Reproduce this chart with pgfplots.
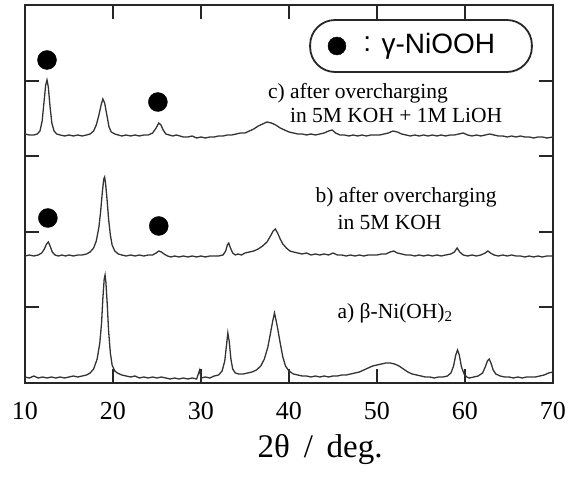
\documentclass[border=0pt]{standalone}
\usepackage{fontspec}
\setmainfont{Liberation Serif}
\newfontfamily\hv{Liberation Sans}
\usepackage{pgfplots}
\pgfplotsset{compat=1.18}

\pgfplotstableread{
x y
10 6
10.5 5
11 7
11.5 5
12 6
12.5 5
13 6
13.5 5
14 6
14.5 5
15 6
15.5 7
16 6
16.5 7
17 8
17.4 10
17.8 14
18.2 24
18.5 40
18.7 60
18.85 85
19.0 104
19.1 108
19.2 100
19.35 78
19.5 52
19.7 30
19.9 18
20.2 12
20.5 10
21 8
21.5 7
22 6
22.5 7
23 5
23.5 6
24 5
24.5 6
25 5
25.5 6
26 5
26.5 4
27 5
27.5 4
28 5
28.5 4
29 5
29.5 4
29.85 13
30.0 5
30.5 6
31 5
31.5 7
32 8
32.4 12
32.7 22
32.9 38
33.05 50
33.2 42
33.4 24
33.6 14
33.9 10
34.3 9
34.8 9
35.3 10
35.8 11
36.3 13
36.8 17
37.2 24
37.6 36
37.9 50
38.15 62
38.35 70
38.5 64
38.7 55
39.0 40
39.3 26
39.6 17
40.0 12
40.5 9
41 8
41.5 7
42 7
42.5 6
43 7
43.5 6
44 7
44.5 6
45 7
45.5 7
46 8
46.5 8
47 9
47.5 10
48 11
48.5 13
49 15
49.5 17
50 18
50.5 19
51 20
51.5 20
52 19
52.5 17
53 14
53.5 11
54 9
54.5 8
55 7
55.5 6
56 6
56.5 5
57 6
57.5 6
58 7
58.4 10
58.7 17
58.95 28
59.15 33
59.35 28
59.6 16
59.9 9
60.2 6
60.5 5
61 6
61.5 7
62 10
62.3 16
62.55 22
62.75 24
62.95 20
63.2 13
63.5 9
64 7
64.5 6
65 6
65.5 5
66 6
66.5 5
67 6
67.5 6
68 6
68.5 7
69 8
69.5 10
70 11
}\seriesA

\pgfplotstableread{
x y
10 127
10.5 128
11 127
11.5 128
11.9 130
12.2 134
12.45 139
12.65 141
12.85 137
13.1 131
13.4 128
13.8 127
14.2 128
14.6 127
15 128
15.5 127
16 128
16.5 128
17 129
17.4 131
17.8 135
18.1 142
18.4 156
18.6 172
18.8 192
18.95 204
19.05 206
19.15 200
19.3 186
19.5 164
19.7 148
19.9 138
20.2 132
20.6 129
21 128
21.5 127
22 128
22.5 127
23 128
23.5 127
24 128
24.5 128
24.9 130
25.2 132
25.5 131
25.8 129
26.2 127
26.6 126
27 127
27.5 126
28 127
28.5 126
29 127
29.5 126
30 127
30.5 126
31 127
31.5 127
32 127
32.5 128
32.8 132
33.0 138
33.15 140
33.35 135
33.6 130
33.9 128
34.2 129
34.6 128
35 130
35.5 131
36 132
36.5 134
37 137
37.5 141
37.9 147
38.2 152
38.45 154
38.7 150
39 144
39.3 139
39.7 135
40.1 132
40.5 131
41 130
41.5 129
42 130
42.5 128
43 129
43.5 128
44 129
44.5 128
45 130
45.5 128
46 128
46.5 127
47 128
47.5 127
48 128
48.5 127
49 128
49.5 128
50 128
50.5 129
51 129
51.5 131
51.9 132
52.3 130
52.8 129
53.3 128
53.8 128
54.3 127
54.8 128
55.3 127
55.8 128
56.3 127
56.8 128
57.3 127
57.8 128
58.4 129
58.8 131
59.1 135
59.4 131
59.8 128
60.3 127
60.8 128
61.3 127
61.8 128
62.3 130
62.6 132
62.9 130
63.3 128
63.8 127
64.3 128
64.8 127
65.3 128
65.8 127
66.3 127
66.8 126
67.3 127
67.8 126
68.3 127
68.8 126
69.3 127
70 127
}\seriesB

\pgfplotstableread{
x y
10 249
10.5 248
11 248
11.4 249
11.7 252
11.95 262
12.15 280
12.35 298
12.5 303
12.65 296
12.85 276
13.05 260
13.3 252
13.6 249
14 248
14.5 247
15 248
15.5 247
16 248
16.5 247
17 248
17.4 249
17.8 252
18.1 258
18.4 268
18.65 278
18.85 284
19.05 280
19.3 268
19.55 256
19.8 251
20.2 249
20.6 248
21 247
21.5 248
22 247
22.5 248
23 247
23.5 248
24 248
24.5 250
24.9 255
25.2 260
25.45 258
25.7 253
26 249
26.4 248
26.8 247
27.2 248
27.6 247
28 246
28.5 246
29 247
29.5 245
30 246
30.5 245
31 246
31.5 246
32 247
32.5 247
33 248
33.5 248
34 249
34.5 250
35 250
35.5 252
36 254
36.5 257
37 259
37.5 261
38 260
38.5 258
39 255
39.5 253
40 251
40.5 250
41 249
41.5 249
42 248
42.5 249
43 248
43.5 249
44 250
44.5 252
44.9 253
45.3 250
45.8 248
46.3 248
46.8 247
47.3 248
47.8 247
48.3 248
48.8 247
49.3 248
49.8 248
50.3 248
50.8 249
51.3 250
51.8 252
52.3 251
52.8 249
53.3 248
53.8 247
54.3 248
54.8 247
55.3 248
55.8 247
56.3 248
56.8 247
57.3 248
57.8 247
58.3 248
58.8 248
59.3 249
59.8 250
60.3 248
60.8 247
61.3 248
61.8 247
62.3 248
62.8 249
63.3 248
63.8 247
64.3 247
64.8 246
65.3 247
65.8 246
66.3 247
66.8 246
67.3 246
67.8 245
68.3 246
68.8 246
69.3 245
70 246
}\seriesC

% gamma-NiOOH markers
\pgfplotstableread{
x y
12.5 323
25.1 281
12.6 165
25.2 157
}\dots

\begin{document}
\begin{tikzpicture}
\useasboundingbox (-25pt,-95pt) rectangle (549pt,383pt);
\begin{axis}[
    scale only axis,
    width=528pt, height=378pt,
    xmin=10, xmax=70, ymin=0, ymax=378,
    clip=false,
    axis line style={line width=1.8pt, black!85},
    xtick={10,20,...,70},
    ytick={76,151,227,302},
    yticklabels={},
    major tick length=14pt,
    tick style={line width=1.6pt, black!85},
    /pgf/number format/assume math mode=true,
    xticklabel style={font=\fontsize{26}{26}\selectfont, yshift=-16pt},
    xlabel={2θ \,/\, deg.},
    xlabel style={font=\fontsize{33}{33}\selectfont, at={(axis description cs:0.559,0)}, anchor=center, yshift=-67pt},
]
\addplot[black!80, line width=1.3pt] table[x=x,y=y] {\seriesA};
\addplot[black!80, line width=1.3pt] table[x=x,y=y] {\seriesB};
\addplot[black!80, line width=1.3pt] table[x=x,y=y] {\seriesC};
\addplot[only marks, mark=*, mark size=9.5pt, black] table[x=x,y=y] {\dots};
\addplot[only marks, mark=*, mark size=9pt, black] coordinates {(45.45,337)};

\draw[line width=1.8pt, black!85, rounded corners=25pt] (axis cs:42.4,311) rectangle (axis cs:67.6,363);
\node[anchor=center, font=\hv\fontsize{28}{28}\selectfont, inner sep=0pt] at (axis cs:48.9,339) {:};
\node[anchor=west, font=\hv\fontsize{28}{28}\selectfont, inner sep=0pt] at (axis cs:50.5,337) {γ-NiOOH};

\node[anchor=west, font=\fontsize{21.5}{21.5}\selectfont, inner sep=0pt] at (axis cs:37.6,290) {c) after overcharging};
\node[anchor=west, font=\fontsize{21.5}{21.5}\selectfont, inner sep=0pt] at (axis cs:40.1,268) {in 5M KOH + 1M LiOH};
\node[anchor=west, font=\fontsize{21.5}{21.5}\selectfont, inner sep=0pt] at (axis cs:43.0,186) {b) after overcharging};
\node[anchor=west, font=\fontsize{21.5}{21.5}\selectfont, inner sep=0pt] at (axis cs:45.5,161) {in 5M KOH};
\node[anchor=west, font=\fontsize{21.5}{21.5}\selectfont, inner sep=0pt] at (axis cs:45.5,70) {a) β-Ni(OH)\textsubscript{2}};
\end{axis}
\end{tikzpicture}
\end{document}
